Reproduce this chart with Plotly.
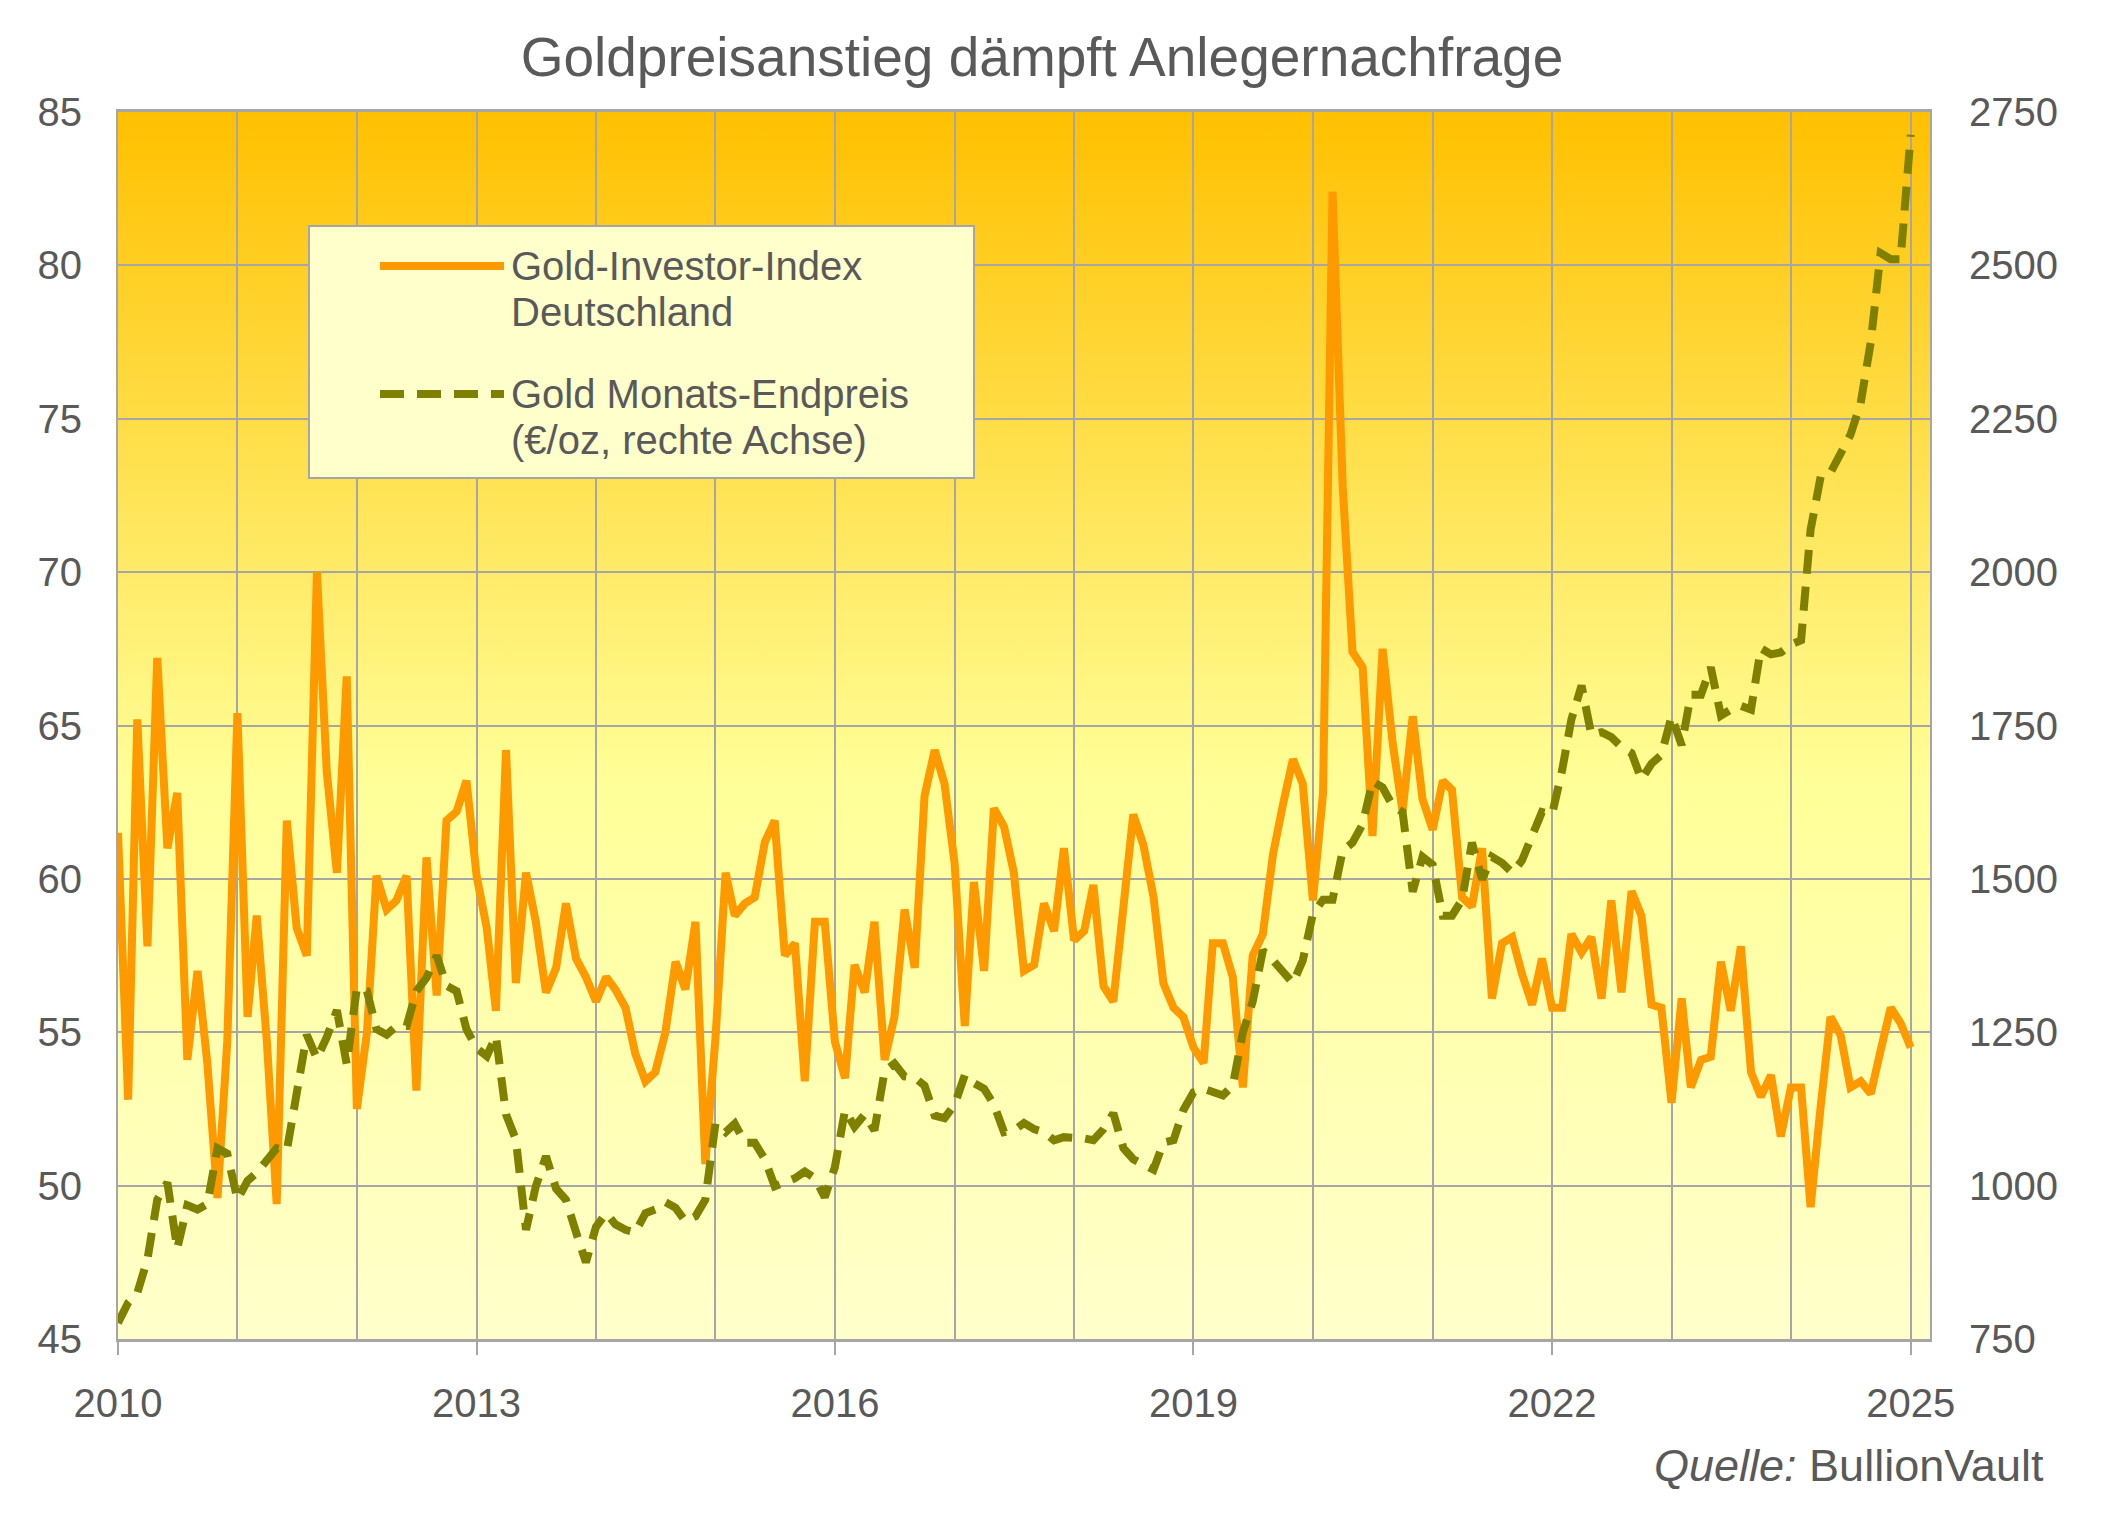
import base64
import pandas as pd
import plotly.graph_objects as go

# ---------------- data ----------------
start_month = "2010-01-01"

gold_investor_index = [
    61.5, 52.8, 65.2, 57.8, 67.2, 61.0, 62.8, 54.1, 57.0, 54.0, 49.6, 54.7,   # 2010
    65.4, 55.5, 58.8, 54.7, 49.4, 61.9, 58.4, 57.5, 70.0, 63.5, 60.2, 66.6,   # 2011
    52.5, 55.0, 60.1, 59.0, 59.3, 60.1, 53.1, 60.7, 56.2, 61.9, 62.2, 63.2,   # 2012
    60.1, 58.4, 55.7, 64.2, 56.6, 60.2, 58.6, 56.3, 57.1, 59.2, 57.4, 56.8,   # 2013
    56.0, 56.8, 56.4, 55.8, 54.3, 53.4, 53.7, 55.0, 57.3, 56.4, 58.6, 50.7,   # 2014
    54.8, 60.2, 58.8, 59.2, 59.4, 61.2, 61.9, 57.5, 57.9, 53.4, 58.6, 58.6,   # 2015
    54.7, 53.5, 57.2, 56.3, 58.6, 54.1, 55.5, 59.0, 57.1, 62.7, 64.2, 63.1,   # 2016
    60.5, 55.2, 59.9, 57.0, 62.3, 61.7, 60.2, 57.0, 57.2, 59.2, 58.3, 61.0,   # 2017
    58.0, 58.3, 59.8, 56.5, 56.0, 59.2, 62.1, 61.1, 59.4, 56.6, 55.8, 55.5,   # 2018
    54.5, 54.0, 57.9, 57.9, 56.8, 53.2, 57.5, 58.2, 60.8, 62.4, 63.9, 63.1,   # 2019
    59.3, 62.8, 82.4, 72.8, 67.4, 66.9, 61.4, 67.5, 64.4, 62.2, 65.3, 62.6,   # 2020
    61.6, 63.2, 62.9, 59.4, 59.1, 61.0, 56.1, 57.9, 58.1, 56.9, 55.9, 57.4,   # 2021
    55.8, 55.8, 58.2, 57.6, 58.1, 56.1, 59.3, 56.3, 59.6, 58.8, 55.9, 55.8,   # 2022
    52.7, 56.1, 53.2, 54.1, 54.2, 57.3, 55.7, 57.8, 53.7, 52.9, 53.6, 51.6,   # 2023
    53.2, 53.2, 49.3, 52.6, 55.5, 54.9, 53.2, 53.4, 53.0, 54.4, 55.8, 55.3,   # 2024
    54.5,                                                                     # 2025
]

gold_month_end_eur = [
    776, 809, 825, 880, 977, 1005, 897, 968, 961, 970, 1061, 1052,            # 2010
    977, 1008, 1021, 1043, 1061, 1057, 1154, 1246, 1207, 1242, 1286, 1198,    # 2011
    1322, 1317, 1255, 1246, 1260, 1260, 1317, 1339, 1375, 1326, 1317, 1255,   # 2012
    1224, 1211, 1244, 1116, 1075, 928, 999, 1048, 995, 977, 924, 875,         # 2013
    933, 955, 937, 928, 924, 955, 961, 973, 964, 942, 950, 977,               # 2014
    1101, 1087, 1101, 1070, 1070, 1043, 999, 1005, 1012, 1023, 1012, 981,     # 2015
    1030, 1123, 1096, 1116, 1090, 1187, 1199, 1178, 1176, 1163, 1114, 1110,   # 2016
    1132, 1180, 1167, 1158, 1132, 1087, 1090, 1102, 1092, 1087, 1074, 1079,   # 2017
    1079, 1077, 1074, 1092, 1118, 1061, 1043, 1034, 1026, 1070, 1074, 1123,   # 2018
    1152, 1158, 1154, 1147, 1163, 1250, 1300, 1383, 1367, 1350, 1330, 1367,   # 2019
    1443, 1466, 1466, 1546, 1559, 1589, 1659, 1649, 1619, 1609, 1479, 1536,   # 2020
    1523, 1440, 1440, 1466, 1559, 1499, 1536, 1526, 1510, 1530, 1569, 1609,   # 2021
    1605, 1678, 1760, 1815, 1735, 1739, 1731, 1715, 1705, 1662, 1688, 1702,   # 2022
    1765, 1718, 1800, 1800, 1845, 1766, 1776, 1782, 1776, 1876, 1866, 1869,   # 2023
    1882, 1889, 2069, 2156, 2162, 2195, 2224, 2275, 2375, 2520, 2510, 2510,   # 2024
    2713,                                                                     # 2025
]

tick_years = ["2010", "2013", "2016", "2019", "2022", "2025"]
left_ticks = [45, 50, 55, 60, 65, 70, 75, 80, 85]
right_ticks = [750, 1000, 1250, 1500, 1750, 2000, 2250, 2500, 2750]

title_text = "Goldpreisanstieg dämpft Anlegernachfrage"
name_index_lines = ["Gold-Investor-Index", "Deutschland"]
name_price_lines = ["Gold Monats-Endpreis", "(€/oz, rechte Achse)"]
source_text = "<i>Quelle:</i> BullionVault"

months = pd.date_range(start_month, periods=len(gold_investor_index), freq="MS")

# ---------------- styling ----------------
OFF = 8                      # default page body margin
PAGE_W, PAGE_H = 2108, 1517
W, H = PAGE_W - OFF, PAGE_H - OFF
PL, PR, PT, PB = 118, 1930, 112, 1339   # plot area in page pixels
FONT = "Liberation Sans, Arial, sans-serif"
TXT = "#595959"
GRID = "#A6A6A6"
ORANGE = "#FF9900"
OLIVE = "#808000"
DASH = "24px,13px"


def px_x(p):
    return (p - PL) / (PR - PL)


def px_y(p):
    return (PB - p) / (PB - PT)


fig = go.Figure()

fig.add_trace(go.Scatter(
    x=months, y=gold_investor_index, name="Gold-Investor-Index Deutschland",
    mode="lines", line=dict(color=ORANGE, width=8), yaxis="y",
    showlegend=False,
))
fig.add_trace(go.Scatter(
    x=months, y=gold_month_end_eur, name="Gold Monats-Endpreis (€/oz, rechte Achse)",
    mode="lines", line=dict(color=OLIVE, width=8, dash=DASH), yaxis="y2",
    showlegend=False,
))

# gradient background for plot area
svg = (
    "<svg xmlns='http://www.w3.org/2000/svg' width='100' height='100' preserveAspectRatio='none'>"
    "<defs><linearGradient id='g' x1='0' y1='0' x2='0' y2='1'>"
    "<stop offset='0' stop-color='#FFC000'/>"
    "<stop offset='0.55' stop-color='#FFFF99'/>"
    "<stop offset='1' stop-color='#FFFFCC'/>"
    "</linearGradient></defs>"
    "<rect x='0' y='0' width='100' height='100' fill='url(#g)'/></svg>"
)
svg_uri = "data:image/svg+xml;base64," + base64.b64encode(svg.encode()).decode()

tickvals = [pd.Timestamp(y + "-01-01") for y in tick_years]

fig.update_layout(
    width=W, height=H,
    margin=dict(l=PL - OFF, r=PAGE_W - PR, t=PT - OFF, b=PAGE_H - PB, pad=0),
    paper_bgcolor="white",
    plot_bgcolor="rgba(0,0,0,0)",
    font=dict(family=FONT, color=TXT, size=40),
    showlegend=False,
    title=dict(text=title_text, x=(1042 - OFF) / W, xanchor="center",
               y=1 - (57 - OFF) / H, yanchor="middle",
               font=dict(size=55, color=TXT, family=FONT)),
    images=[dict(source=svg_uri, xref="paper", yref="paper", x=0, y=1, sizex=1, sizey=1,
                 xanchor="left", yanchor="top", sizing="stretch", layer="below")],
    xaxis=dict(
        type="date",
        range=["2010-01-01", "2025-03-01"],
        tickvals=tickvals, ticktext=tick_years,
        ticks="outside", ticklen=13, tickwidth=2, tickcolor=GRID,
        showgrid=True, gridcolor=GRID, gridwidth=2,
        minor=dict(dtick="M12", tick0="2010-01-01", showgrid=True, gridcolor=GRID, gridwidth=2, ticks=""),
        showline=True, linecolor=GRID, linewidth=3, mirror=True,
        tickfont=dict(size=40, color=TXT, family=FONT),
        ticklabelstandoff=14,
        zeroline=False,
    ),
    yaxis=dict(
        range=[45, 85], tickvals=left_ticks,
        showgrid=True, gridcolor=GRID, gridwidth=2,
        ticks="outside", ticklen=26, tickcolor="rgba(0,0,0,0)",
        showline=True, linecolor=GRID, linewidth=2, mirror=True,
        tickfont=dict(size=40, color=TXT, family=FONT),
        zeroline=False,
    ),
    yaxis2=dict(
        range=[750, 2750], tickvals=right_ticks,
        overlaying="y", side="right", showgrid=False,
        ticks="outside", ticklen=30, tickcolor="rgba(0,0,0,0)",
        tickfont=dict(size=40, color=TXT, family=FONT),
        zeroline=False, showline=False,
    ),
)

# manual legend (box, line samples, labels)
lx0, lx1 = px_x(380), px_x(504)
fig.add_shape(type="rect", xref="paper", yref="paper",
              x0=px_x(309), x1=px_x(974), y0=px_y(478), y1=px_y(226),
              fillcolor="#FFFFCC", line=dict(color=GRID, width=2), layer="above")
fig.add_shape(type="line", xref="paper", yref="paper",
              x0=lx0, x1=lx1, y0=px_y(266), y1=px_y(266),
              line=dict(color=ORANGE, width=8), layer="above")
fig.add_shape(type="line", xref="paper", yref="paper",
              x0=lx0, x1=lx1, y0=px_y(394), y1=px_y(394),
              line=dict(color=OLIVE, width=8, dash=DASH), layer="above")
for lines, ys in ((name_index_lines, (266, 312)), (name_price_lines, (394, 440))):
    for txt, yy in zip(lines, ys):
        fig.add_annotation(text=txt, xref="paper", yref="paper",
                           x=px_x(509), y=px_y(yy), xanchor="left", yanchor="middle",
                           align="left", showarrow=False,
                           font=dict(size=40, color=TXT, family=FONT))

# source note
fig.add_annotation(text=source_text, xref="paper", yref="paper",
                   x=px_x(2046), y=px_y(1465), xanchor="right", yanchor="middle",
                   showarrow=False, font=dict(size=45, color=TXT, family=FONT))

fig.write_html("out.html")
